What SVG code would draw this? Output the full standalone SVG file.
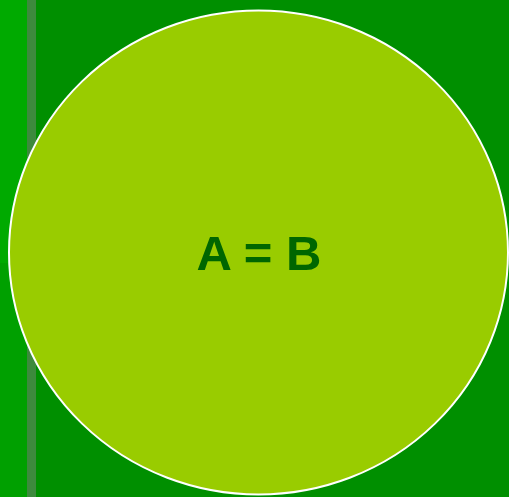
<svg xmlns="http://www.w3.org/2000/svg" width="509" height="497" viewBox="0 0 509 497">
<style>
.lbl{font-family:"Liberation Sans",Arial,sans-serif;font-weight:bold;font-size:49px;fill:#006600;text-anchor:middle}
</style>
<rect x="0" y="0" width="509" height="497" fill="#008f00"/>
<rect x="0" y="0" width="27" height="263" fill="#00aa00"/>
<rect x="0" y="263" width="27" height="234" fill="#00a000"/>
<rect x="27" y="0" width="9" height="497" fill="#3d8a3d"/>
<g id="node-ab">
<ellipse cx="258.5" cy="252.5" rx="249.5" ry="242" fill="#99cc00" stroke="#ffffff" stroke-width="2"/>
<text class="lbl" x="259" y="270">A = B</text>
</g>
<g id="connectors"/>
</svg>
